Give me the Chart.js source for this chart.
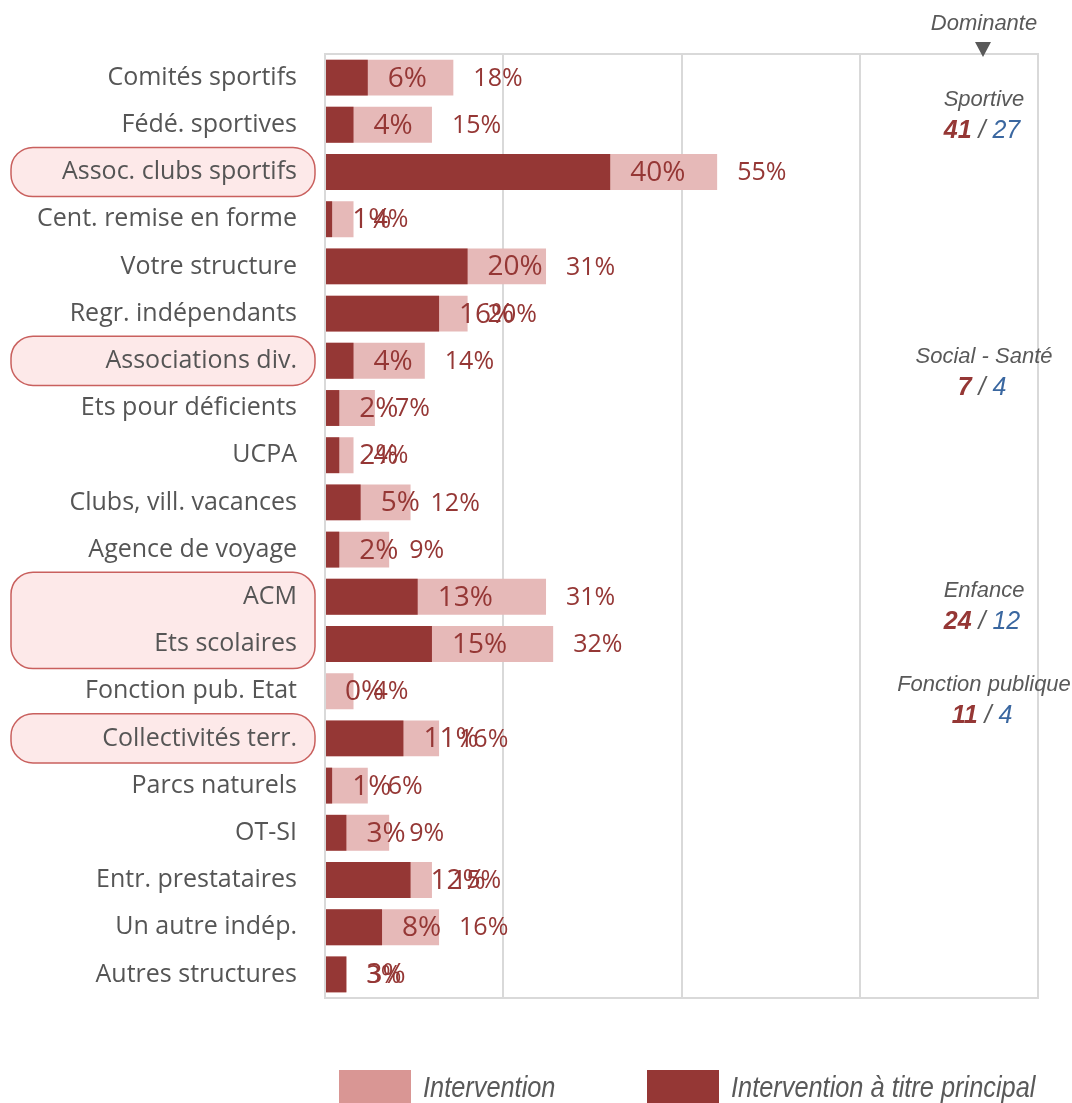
<!DOCTYPE html>
<html>
<head>
<meta charset="utf-8">
<script src="https://cdn.jsdelivr.net/npm/chart.js@4"></script>
<style>
  html, body { margin: 0; padding: 0; background: #fff; }
</style>
</head>
<body>
<canvas id="chart" width="1072" height="1103"></canvas>
<script>
// Data
const categories = [
    'Comités sportifs', 'Fédé. sportives', 'Assoc. clubs sportifs', 'Cent. remise en forme',
    'Votre structure', 'Regr. indépendants', 'Associations div.', 'Ets pour déficients',
    'UCPA', 'Clubs, vill. vacances', 'Agence de voyage', 'ACM', 'Ets scolaires',
    'Fonction pub. Etat', 'Collectivités terr.', 'Parcs naturels', 'OT-SI',
    'Entr. prestataires', 'Un autre indép.', 'Autres structures'
];
const interventionValues = [18, 15, 55, 4, 31, 20, 14, 7, 4, 12, 9, 31, 32, 4, 16, 6, 9, 15, 16, 3];
const principalValues    = [6, 4, 40, 1, 20, 16, 4, 2, 2, 5, 2, 13, 15, 0, 11, 1, 3, 12, 8, 3];
const xTickValues = [0, 25, 50, 75, 100];
const seriesNames = ['Intervention', 'Intervention à titre principal'];

// highlighted category groups (first index, last index)
const highlightGroups = [[2, 2], [6, 6], [11, 12], [14, 14]];

// "Dominante" side notes
const dominanteNames = ['Sportive', 'Social - Santé', 'Enfance', 'Fonction publique'];
const dominanteMain  = [41, 7, 24, 11];
const dominanteOther = [27, 4, 12, 4];
const dominanteY     = [100, 357, 591, 685];

const DARK = '#953735';
const LIGHT = '#e6b9b8';
const GREY = '#595959';
const BLUE = '#3a67a0';

// Pink rounded boxes behind some category labels
const highlightBoxes = {
    id: 'highlightBoxes',
    beforeDraw(chart) {
        const ctx = chart.ctx;
        const y = chart.scales.y;
        const rowH = y.height / categories.length;
        ctx.save();
        highlightGroups.forEach(([a, b]) => {
            const top = y.getPixelForValue(a) - rowH / 2 - 1;
            const bottom = y.getPixelForValue(b) + rowH / 2 + 1;
            ctx.beginPath();
            ctx.roundRect(11, top, 304, bottom - top, 22);
            ctx.fillStyle = '#fde9e9';
            ctx.fill();
            ctx.lineWidth = 1.5;
            ctx.strokeStyle = '#c9605e';
            ctx.stroke();
        });
        ctx.restore();
    }
};

// Value labels just past the end of each bar
const barLabels = {
    id: 'barLabels',
    afterDatasetsDraw(chart) {
        const ctx = chart.ctx;
        chart.data.datasets.forEach((ds, i) => {
            const meta = chart.getDatasetMeta(i);
            ctx.save();
            ctx.fillStyle = DARK;
            ctx.font = ds.labelFont;
            ctx.textAlign = 'left';
            ctx.textBaseline = 'middle';
            meta.data.forEach((bar, j) => {
                ctx.fillText(ds.data[j] + '%', bar.x + 20, bar.y + 1);
            });
            ctx.restore();
        });
    }
};

// Plot frame, side notes and legend
const extras = {
    id: 'extras',
    afterDraw(chart) {
        const ctx = chart.ctx;
        const area = chart.chartArea;
        ctx.save();
        ctx.strokeStyle = '#d9d9d9';
        ctx.lineWidth = 2;
        ctx.strokeRect(area.left, area.top, area.right - area.left, area.bottom - area.top);

        // Dominante header + arrow
        const cx = 982;
        ctx.fillStyle = GREY;
        ctx.font = 'italic 22px "Liberation Sans", Arial, sans-serif';
        ctx.textAlign = 'center';
        ctx.textBaseline = 'middle';
        ctx.fillText('Dominante', 984, 24);
        ctx.beginPath();
        ctx.moveTo(975, 42);
        ctx.lineTo(991, 42);
        ctx.lineTo(983, 57);
        ctx.closePath();
        ctx.fill();

        dominanteNames.forEach((name, i) => {
            const y0 = dominanteY[i];
            ctx.fillStyle = GREY;
            ctx.font = 'italic 22px "Liberation Sans", Arial, sans-serif';
            ctx.textAlign = 'center';
            ctx.fillText(name, cx + 2, y0);

            const parts = [
                { t: String(dominanteMain[i]), f: 'italic bold 25px "Liberation Sans", Arial, sans-serif', c: DARK },
                { t: ' / ', f: 'italic 25px "Liberation Sans", Arial, sans-serif', c: GREY },
                { t: String(dominanteOther[i]), f: 'italic 25px "Liberation Sans", Arial, sans-serif', c: BLUE }
            ];
            let total = 0;
            parts.forEach(p => { ctx.font = p.f; p.w = ctx.measureText(p.t).width; total += p.w; });
            let x = cx - total / 2;
            ctx.textAlign = 'left';
            parts.forEach(p => {
                ctx.font = p.f;
                ctx.fillStyle = p.c;
                ctx.fillText(p.t, x, y0 + 31);
                x += p.w;
            });
        });

        // legend (condensed italic text)
        const items = [
            { x: 339, color: '#d99694', text: seriesNames[0] },
            { x: 647, color: DARK, text: seriesNames[1] }
        ];
        items.forEach(it => {
            ctx.fillStyle = it.color;
            ctx.fillRect(it.x, 1070, 72, 34);
            ctx.save();
            ctx.translate(it.x + 84, 1089);
            ctx.scale(0.845, 1);
            ctx.fillStyle = GREY;
            ctx.font = 'italic 30px "Liberation Sans", Arial, sans-serif';
            ctx.textAlign = 'left';
            ctx.textBaseline = 'middle';
            ctx.fillText(it.text, 0, 0);
            ctx.restore();
        });
        ctx.restore();
    }
};

const ctx = document.getElementById('chart').getContext('2d');
const chart = new Chart(ctx, {
    type: 'bar',
    data: {
        labels: categories,
        datasets: [{
            label: seriesNames[0],
            data: interventionValues,
            backgroundColor: LIGHT,
            order: 2,
            labelFont: '25px "Open Sans", sans-serif'
        }, {
            label: seriesNames[1],
            data: principalValues,
            backgroundColor: DARK,
            order: 1,
            labelFont: '28px "Open Sans", sans-serif'
        }]
    },
    options: {
        indexAxis: 'y',
        responsive: false,
        animation: false,
        devicePixelRatio: 1,
        layout: { padding: { top: 54, right: 34, bottom: 105, left: 0 } },
        datasets: {
            bar: { grouped: false, barPercentage: 0.76, categoryPercentage: 1 }
        },
        scales: {
            x: {
                min: 0,
                max: 100,
                afterBuildTicks(scale) {
                    scale.ticks = xTickValues.map(v => ({ value: v }));
                },
                ticks: { display: false },
                grid: { color: '#d9d9d9', lineWidth: 2, drawTicks: false },
                border: { display: false },
                afterFit(scale) { scale.height = 0; }
            },
            y: {
                grid: { display: false, drawTicks: false },
                border: { display: false },
                ticks: {
                    color: '#555555',
                    padding: 28,
                    font: { family: '"Open Sans", sans-serif', size: 25 }
                },
                afterFit(scale) { scale.width = 325; }
            }
        },
        plugins: {
            legend: { display: false },
            tooltip: { enabled: false }
        }
    },
    plugins: [highlightBoxes, barLabels, extras]
});
</script>
</body>
</html>
